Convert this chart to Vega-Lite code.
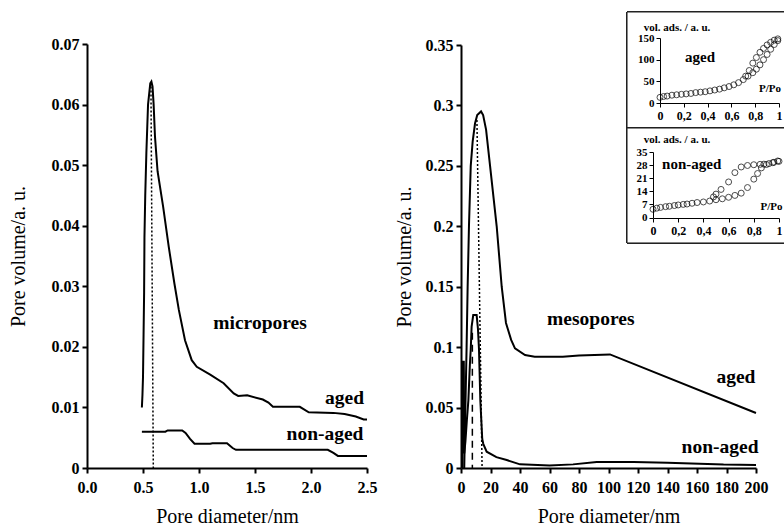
{
  "$schema": "https://vega.github.io/schema/vega-lite/v6.json",
  "width": 784,
  "height": 528,
  "padding": 0,
  "autosize": {"type": "none"},
  "background": "white",
  "config": {
    "font": "Liberation Serif",
    "view": {"stroke": null},
    "axis": {"grid": false, "domainColor": "black", "tickColor": "black", "labelColor": "black", "titleColor": "black", "labelFont": "Liberation Serif", "titleFont": "Liberation Serif", "labelFlush": false, "labelOverlap": false}
  },
  "datasets": {
    "leftAged": [
      {"x": 0.49, "y": 0.010}, {"x": 0.495, "y": 0.012}, {"x": 0.50, "y": 0.015}, {"x": 0.505, "y": 0.022}, {"x": 0.51, "y": 0.029}, {"x": 0.513, "y": 0.038}, {"x": 0.52, "y": 0.045}, {"x": 0.53, "y": 0.052}, {"x": 0.545, "y": 0.060}, {"x": 0.565, "y": 0.0635}, {"x": 0.575, "y": 0.0638}, {"x": 0.585, "y": 0.063}, {"x": 0.595, "y": 0.060}, {"x": 0.607, "y": 0.0547}, {"x": 0.63, "y": 0.049}, {"x": 0.68, "y": 0.0431}, {"x": 0.73, "y": 0.0365}, {"x": 0.78, "y": 0.0305}, {"x": 0.82, "y": 0.0261}, {"x": 0.875, "y": 0.0211}, {"x": 0.935, "y": 0.0178}, {"x": 0.98, "y": 0.0167}, {"x": 1.10, "y": 0.0154}, {"x": 1.22, "y": 0.014}, {"x": 1.31, "y": 0.0123}, {"x": 1.35, "y": 0.0119}, {"x": 1.43, "y": 0.0120}, {"x": 1.57, "y": 0.0113}, {"x": 1.62, "y": 0.0108}, {"x": 1.66, "y": 0.0101}, {"x": 1.90, "y": 0.0101}, {"x": 1.98, "y": 0.0092}, {"x": 2.2, "y": 0.0091}, {"x": 2.3, "y": 0.0089}, {"x": 2.4, "y": 0.0085}, {"x": 2.47, "y": 0.008}, {"x": 2.5, "y": 0.008}
    ],
    "leftNon": [
      {"x": 0.49, "y": 0.006}, {"x": 0.70, "y": 0.006}, {"x": 0.72, "y": 0.0062}, {"x": 0.85, "y": 0.0062}, {"x": 0.88, "y": 0.0058}, {"x": 0.92, "y": 0.0048}, {"x": 0.96, "y": 0.004}, {"x": 1.1, "y": 0.004}, {"x": 1.12, "y": 0.0041}, {"x": 1.25, "y": 0.0041}, {"x": 1.3, "y": 0.0033}, {"x": 1.33, "y": 0.003}, {"x": 2.15, "y": 0.003}, {"x": 2.2, "y": 0.0025}, {"x": 2.24, "y": 0.002}, {"x": 2.5, "y": 0.002}
    ],
    "leftDot": [{"x": 0.571, "y": 0.063}, {"x": 0.592, "y": 0}],
    "leftText": [
      {"x": 1.545, "y": 0.0239, "label": "micropores"},
      {"x": 2.30, "y": 0.01155, "label": "aged"},
      {"x": 2.125, "y": 0.0056, "label": "non-aged"}
    ],
    "rightAged": [
      {"x": 2.2, "y": 0.0}, {"x": 2.8, "y": 0.04}, {"x": 3.3, "y": 0.07}, {"x": 3.8, "y": 0.1}, {"x": 4.5, "y": 0.15}, {"x": 5.4, "y": 0.2}, {"x": 6.6, "y": 0.25}, {"x": 7.9, "y": 0.27}, {"x": 9.5, "y": 0.285}, {"x": 11, "y": 0.292}, {"x": 13.6, "y": 0.295}, {"x": 15, "y": 0.292}, {"x": 17, "y": 0.28}, {"x": 19.7, "y": 0.25}, {"x": 24.2, "y": 0.2}, {"x": 27.6, "y": 0.15}, {"x": 30.5, "y": 0.12}, {"x": 34, "y": 0.106}, {"x": 36.6, "y": 0.099}, {"x": 43.4, "y": 0.0935}, {"x": 50, "y": 0.092}, {"x": 69, "y": 0.092}, {"x": 80, "y": 0.093}, {"x": 101, "y": 0.094}, {"x": 200, "y": 0.0455}
    ],
    "rightNon": [
      {"x": 1.0, "y": 0.0}, {"x": 1.3, "y": 0.088}, {"x": 1.9, "y": 0.088}, {"x": 2.2, "y": 0.012}, {"x": 3, "y": 0.022}, {"x": 4, "y": 0.04}, {"x": 5, "y": 0.056}, {"x": 6, "y": 0.085}, {"x": 6.6, "y": 0.098}, {"x": 7.2, "y": 0.117}, {"x": 8.3, "y": 0.1265}, {"x": 10.6, "y": 0.1265}, {"x": 11.5, "y": 0.115}, {"x": 12.2, "y": 0.098}, {"x": 13.1, "y": 0.056}, {"x": 14.4, "y": 0.024}, {"x": 15.1, "y": 0.02}, {"x": 17.4, "y": 0.0135}, {"x": 24, "y": 0.009}, {"x": 31, "y": 0.0066}, {"x": 40, "y": 0.003}, {"x": 60, "y": 0.002}, {"x": 76, "y": 0.003}, {"x": 92, "y": 0.005}, {"x": 117, "y": 0.005}, {"x": 140, "y": 0.0044}, {"x": 178, "y": 0.0028}, {"x": 200, "y": 0.0025}
    ],
    "rightDot": [{"x": 10.8, "y": 0.288}, {"x": 14.3, "y": 0}],
    "rightDash": [{"x": 7.7, "y": 0.112}, {"x": 7.7, "y": 0}],
    "rightText": [
      {"x": 88, "y": 0.123, "label": "mesopores"},
      {"x": 186.4, "y": 0.075, "label": "aged"},
      {"x": 175.6, "y": 0.0176, "label": "non-aged"}
    ],
    "insetAged": [
      {"x": 0.0, "y": 13}, {"x": 0.03, "y": 15}, {"x": 0.06, "y": 16}, {"x": 0.1, "y": 18}, {"x": 0.14, "y": 19}, {"x": 0.18, "y": 20}, {"x": 0.22, "y": 21}, {"x": 0.26, "y": 22}, {"x": 0.3, "y": 24}, {"x": 0.34, "y": 25}, {"x": 0.38, "y": 26}, {"x": 0.42, "y": 28}, {"x": 0.46, "y": 30}, {"x": 0.5, "y": 32}, {"x": 0.54, "y": 35}, {"x": 0.58, "y": 38}, {"x": 0.62, "y": 42}, {"x": 0.66, "y": 47}, {"x": 0.7, "y": 54}, {"x": 0.74, "y": 62}, {"x": 0.78, "y": 70}, {"x": 0.81, "y": 78}, {"x": 0.84, "y": 88}, {"x": 0.87, "y": 100}, {"x": 0.9, "y": 112}, {"x": 0.93, "y": 124}, {"x": 0.96, "y": 135}, {"x": 0.99, "y": 144},
      {"x": 0.99, "y": 148}, {"x": 0.96, "y": 145}, {"x": 0.93, "y": 140}, {"x": 0.9, "y": 134}, {"x": 0.87, "y": 126}, {"x": 0.84, "y": 117}, {"x": 0.81, "y": 105}, {"x": 0.78, "y": 92}, {"x": 0.75, "y": 75}, {"x": 0.72, "y": 62}
    ],
    "insetAgedText": [
      {"x": 0.143, "y": 173, "label": "vol. ads. / a. u.", "size": "s"},
      {"x": 0.336, "y": 106, "label": "aged", "size": "l"},
      {"x": 0.924, "y": 32, "label": "P/Po", "size": "s"}
    ],
    "insetNon": [
      {"x": 0.0, "y": 4.4}, {"x": 0.03, "y": 5}, {"x": 0.06, "y": 5.4}, {"x": 0.1, "y": 5.8}, {"x": 0.13, "y": 6}, {"x": 0.17, "y": 6.4}, {"x": 0.2, "y": 6.7}, {"x": 0.24, "y": 7}, {"x": 0.27, "y": 7.2}, {"x": 0.31, "y": 7.6}, {"x": 0.35, "y": 8}, {"x": 0.4, "y": 8.3}, {"x": 0.45, "y": 8.8}, {"x": 0.5, "y": 9.5}, {"x": 0.55, "y": 10}, {"x": 0.6, "y": 10.8}, {"x": 0.65, "y": 11.8}, {"x": 0.7, "y": 13}, {"x": 0.75, "y": 16}, {"x": 0.8, "y": 20.5}, {"x": 0.83, "y": 23.5}, {"x": 0.86, "y": 26.5}, {"x": 0.9, "y": 28.3}, {"x": 0.95, "y": 29.3}, {"x": 1.0, "y": 30},
      {"x": 0.48, "y": 11}, {"x": 0.5, "y": 12.5}, {"x": 0.54, "y": 15}, {"x": 0.6, "y": 19}, {"x": 0.65, "y": 24}, {"x": 0.7, "y": 27}, {"x": 0.75, "y": 27.8}, {"x": 0.8, "y": 28.2}, {"x": 0.85, "y": 28.4}, {"x": 0.88, "y": 28.5}, {"x": 0.92, "y": 28.8}, {"x": 0.96, "y": 29.5}, {"x": 0.99, "y": 30.2}
    ],
    "insetNonText": [
      {"x": 0.19, "y": 41.2, "label": "vol. ads. / a. u.", "size": "s"},
      {"x": 0.307, "y": 28.4, "label": "non-aged", "size": "l"},
      {"x": 0.94, "y": 5.8, "label": "P/Po", "size": "s"}
    ]
  },
  "layer": [
    {
      "layer": [
        {
          "data": {"name": "leftAged"},
          "mark": {"type": "line", "color": "black", "strokeWidth": 2},
          "encoding": {
            "x": {"field": "x", "type": "quantitative", "scale": {"domain": [0, 2.5], "range": [87, 367], "nice": false, "zero": false},
              "axis": {"orient": "bottom", "offset": -60, "values": [0, 0.5, 1, 1.5, 2, 2.5], "title": "Pore diameter/nm", "tickSize": 5, "labelPadding": 6, "titlePadding": 11, "labelFontSize": 16, "labelFontWeight": "bold", "titleFontSize": 20, "titleFontWeight": "normal", "domainWidth": 2, "tickWidth": 2}},
            "y": {"field": "y", "type": "quantitative", "scale": {"domain": [0, 0.07], "range": [468, 44], "nice": false, "zero": false},
              "axis": {"orient": "left", "offset": -87, "values": [0, 0.01, 0.02, 0.03, 0.04, 0.05, 0.06, 0.07], "format": "~g", "title": "Pore volume/a. u.", "tickSize": 5, "labelPadding": 3, "titlePadding": 23, "labelFontSize": 16, "labelFontWeight": "bold", "titleFontSize": 20, "titleFontWeight": "normal", "domainWidth": 2, "tickWidth": 2}}
          }
        },
        {
          "data": {"name": "leftNon"},
          "mark": {"type": "line", "color": "black", "strokeWidth": 2},
          "encoding": {
            "x": {"field": "x", "type": "quantitative", "scale": {"domain": [0, 2.5], "range": [87, 367], "nice": false, "zero": false}},
            "y": {"field": "y", "type": "quantitative", "scale": {"domain": [0, 0.07], "range": [468, 44], "nice": false, "zero": false}}
          }
        },
        {
          "data": {"name": "leftDot"},
          "mark": {"type": "line", "color": "black", "strokeWidth": 1.5, "strokeDash": [2, 2]},
          "encoding": {
            "x": {"field": "x", "type": "quantitative", "scale": {"domain": [0, 2.5], "range": [87, 367], "nice": false, "zero": false}},
            "y": {"field": "y", "type": "quantitative", "scale": {"domain": [0, 0.07], "range": [468, 44], "nice": false, "zero": false}}
          }
        },
        {
          "data": {"name": "leftText"},
          "mark": {"type": "text", "color": "black", "fontSize": 19.5, "fontWeight": "bold", "align": "center", "baseline": "middle", "font": "Liberation Serif"},
          "encoding": {
            "x": {"field": "x", "type": "quantitative", "scale": {"domain": [0, 2.5], "range": [87, 367], "nice": false, "zero": false}},
            "y": {"field": "y", "type": "quantitative", "scale": {"domain": [0, 0.07], "range": [468, 44], "nice": false, "zero": false}},
            "text": {"field": "label"}
          }
        }
      ]
    },
    {
      "layer": [
        {
          "data": {"name": "rightAged"},
          "mark": {"type": "line", "color": "black", "strokeWidth": 2},
          "encoding": {
            "x": {"field": "x", "type": "quantitative", "scale": {"domain": [0, 200], "range": [461, 756], "nice": false, "zero": false},
              "axis": {"orient": "bottom", "offset": -60, "values": [0, 20, 40, 60, 80, 100, 120, 140, 160, 180, 200], "title": "Pore diameter/nm", "tickSize": 5, "labelPadding": 6, "titlePadding": 11, "labelFontSize": 16, "labelFontWeight": "bold", "titleFontSize": 20, "titleFontWeight": "normal", "domainWidth": 2, "tickWidth": 2}},
            "y": {"field": "y", "type": "quantitative", "scale": {"domain": [0, 0.35], "range": [468, 45], "nice": false, "zero": false},
              "axis": {"orient": "left", "offset": -461, "values": [0, 0.05, 0.1, 0.15, 0.2, 0.25, 0.3, 0.35], "format": "~g", "title": "Pore volume/a. u.", "tickSize": 5, "labelPadding": 3, "titlePadding": 11, "labelFontSize": 16, "labelFontWeight": "bold", "titleFontSize": 20, "titleFontWeight": "normal", "domainWidth": 2, "tickWidth": 2}}
          }
        },
        {
          "data": {"name": "rightNon"},
          "mark": {"type": "line", "color": "black", "strokeWidth": 2},
          "encoding": {
            "x": {"field": "x", "type": "quantitative", "scale": {"domain": [0, 200], "range": [461, 756], "nice": false, "zero": false}},
            "y": {"field": "y", "type": "quantitative", "scale": {"domain": [0, 0.35], "range": [468, 45], "nice": false, "zero": false}}
          }
        },
        {
          "data": {"name": "rightDot"},
          "mark": {"type": "line", "color": "black", "strokeWidth": 1.5, "strokeDash": [2, 2]},
          "encoding": {
            "x": {"field": "x", "type": "quantitative", "scale": {"domain": [0, 200], "range": [461, 756], "nice": false, "zero": false}},
            "y": {"field": "y", "type": "quantitative", "scale": {"domain": [0, 0.35], "range": [468, 45], "nice": false, "zero": false}}
          }
        },
        {
          "data": {"name": "rightDash"},
          "mark": {"type": "line", "color": "black", "strokeWidth": 1.5, "strokeDash": [7, 5]},
          "encoding": {
            "x": {"field": "x", "type": "quantitative", "scale": {"domain": [0, 200], "range": [461, 756], "nice": false, "zero": false}},
            "y": {"field": "y", "type": "quantitative", "scale": {"domain": [0, 0.35], "range": [468, 45], "nice": false, "zero": false}}
          }
        },
        {
          "data": {"name": "rightText"},
          "mark": {"type": "text", "color": "black", "fontSize": 19.5, "fontWeight": "bold", "align": "center", "baseline": "middle", "font": "Liberation Serif"},
          "encoding": {
            "x": {"field": "x", "type": "quantitative", "scale": {"domain": [0, 200], "range": [461, 756], "nice": false, "zero": false}},
            "y": {"field": "y", "type": "quantitative", "scale": {"domain": [0, 0.35], "range": [468, 45], "nice": false, "zero": false}},
            "text": {"field": "label"}
          }
        }
      ]
    },
    {
      "layer": [
        {
          "data": {"name": "insetAged"},
          "mark": {"type": "rect", "fill": "white", "stroke": "#222222", "strokeWidth": 1},
          "encoding": {
            "x": {"datum": -0.277, "type": "quantitative", "scale": {"domain": [0, 1], "range": [660, 779], "nice": false, "zero": false},
              "axis": {"orient": "bottom", "offset": -425, "zindex": 1, "values": [0, 0.2, 0.4, 0.6, 0.8, 1], "labelExpr": "replace(format(datum.value, '~g'), '.', ',')", "title": null, "tickSize": 4, "labelPadding": 3, "labelFontSize": 12, "labelFontWeight": "bold", "domainWidth": 1, "tickWidth": 1}},
            "x2": {"datum": 1.1},
            "y": {"datum": -57.7, "type": "quantitative", "scale": {"domain": [0, 150], "range": [103, 38], "nice": false, "zero": false},
              "axis": {"orient": "left", "offset": -660, "zindex": 1, "values": [0, 50, 100, 150], "title": null, "tickSize": 4, "labelPadding": 2, "labelFontSize": 11, "labelFontWeight": "bold", "domainWidth": 1, "tickWidth": 1}},
            "y2": {"datum": 210}
          }
        },
        {
          "data": {"name": "insetAged"},
          "mark": {"type": "point", "shape": "circle", "filled": false, "color": "black", "strokeWidth": 1, "size": 36},
          "encoding": {
            "x": {"field": "x", "type": "quantitative", "scale": {"domain": [0, 1], "range": [660, 779], "nice": false, "zero": false}},
            "y": {"field": "y", "type": "quantitative", "scale": {"domain": [0, 150], "range": [103, 38], "nice": false, "zero": false}}
          }
        },
        {
          "data": {"name": "insetAgedText"},
          "mark": {"type": "text", "color": "black", "fontWeight": "bold", "align": "center", "baseline": "middle", "font": "Liberation Serif"},
          "encoding": {
            "x": {"field": "x", "type": "quantitative", "scale": {"domain": [0, 1], "range": [660, 779], "nice": false, "zero": false}},
            "y": {"field": "y", "type": "quantitative", "scale": {"domain": [0, 150], "range": [103, 38], "nice": false, "zero": false}},
            "text": {"field": "label"},
            "size": {"field": "size", "type": "nominal", "scale": {"domain": ["s", "l"], "range": [11, 15]}, "legend": null}
          }
        }
      ]
    },
    {
      "layer": [
        {
          "data": {"name": "insetNon"},
          "mark": {"type": "rect", "fill": "white", "stroke": "#222222", "strokeWidth": 1},
          "encoding": {
            "x": {"datum": -0.206, "type": "quantitative", "scale": {"domain": [0, 1], "range": [653, 779], "nice": false, "zero": false},
              "axis": {"orient": "bottom", "offset": -310, "zindex": 1, "values": [0, 0.2, 0.4, 0.6, 0.8, 1], "labelExpr": "replace(format(datum.value, '~g'), '.', ',')", "title": null, "tickSize": 4, "labelPadding": 3, "labelFontSize": 12, "labelFontWeight": "bold", "domainWidth": 1, "tickWidth": 1}},
            "x2": {"datum": 1.1},
            "y": {"datum": -13.6, "type": "quantitative", "scale": {"domain": [0, 35], "range": [217.5, 152], "nice": false, "zero": false},
              "axis": {"orient": "left", "offset": -653, "zindex": 1, "values": [0, 7, 14, 21, 28, 35], "title": null, "tickSize": 4, "labelPadding": 2, "labelFontSize": 11, "labelFontWeight": "bold", "domainWidth": 1, "tickWidth": 1}},
            "y2": {"datum": 47.8}
          }
        },
        {
          "data": {"name": "insetNon"},
          "mark": {"type": "point", "shape": "circle", "filled": false, "color": "black", "strokeWidth": 1, "size": 36},
          "encoding": {
            "x": {"field": "x", "type": "quantitative", "scale": {"domain": [0, 1], "range": [653, 779], "nice": false, "zero": false}},
            "y": {"field": "y", "type": "quantitative", "scale": {"domain": [0, 35], "range": [217.5, 152], "nice": false, "zero": false}}
          }
        },
        {
          "data": {"name": "insetNonText"},
          "mark": {"type": "text", "color": "black", "fontWeight": "bold", "align": "center", "baseline": "middle", "font": "Liberation Serif"},
          "encoding": {
            "x": {"field": "x", "type": "quantitative", "scale": {"domain": [0, 1], "range": [653, 779], "nice": false, "zero": false}},
            "y": {"field": "y", "type": "quantitative", "scale": {"domain": [0, 35], "range": [217.5, 152], "nice": false, "zero": false}},
            "text": {"field": "label"},
            "size": {"field": "size", "type": "nominal", "scale": {"domain": ["s", "l"], "range": [11, 15]}, "legend": null}
          }
        }
      ]
    }
  ],
  "resolve": {"scale": {"x": "independent", "y": "independent", "size": "independent"}, "axis": {"x": "independent", "y": "independent"}}
}
